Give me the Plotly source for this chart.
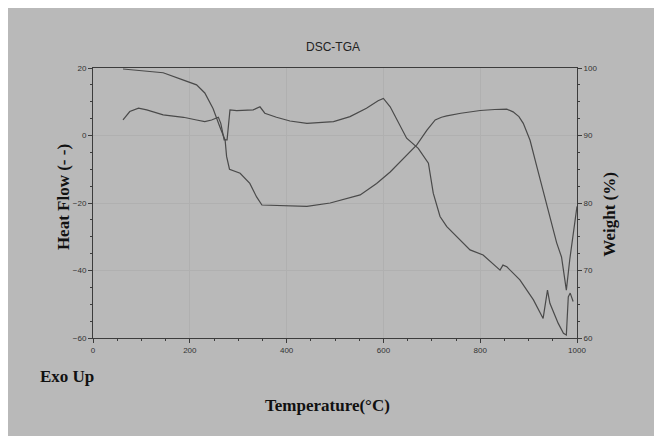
import plotly.graph_objects as go

# TGA weight curve (right axis)
tga_temp = [62, 145, 187, 214, 231, 248, 262, 273, 276, 282, 304, 324, 338, 349, 442, 490, 552, 586, 614,
            669, 690, 707, 720, 731, 760, 800, 830, 855, 868, 880, 889, 903, 917, 931, 944, 958, 968, 978,
            985, 992, 1000]
tga_weight = [99.85, 99.3, 98.2, 97.5, 96.3, 94.0, 91.3, 89.3, 86.9, 85.0, 84.4, 82.9, 80.9, 79.7, 79.5, 80.0,
              81.2, 82.9, 84.6, 88.6, 90.8, 92.3, 92.7, 92.9, 93.3, 93.7, 93.85, 93.9, 93.5, 92.8, 91.8, 89.3,
              85.4, 81.4, 78.0, 74.1, 72.0, 67.1, 71.6, 75.0, 79.5]

# DSC heat flow curve (left axis)
dsc_temp = [62, 76, 94, 111, 145, 187, 214, 231, 245, 259, 264, 271, 277, 283, 297, 331, 345, 355, 379, 407,
            442, 497, 531, 565, 589, 600, 614, 628, 648, 672, 693, 703, 717, 731, 758, 779, 806, 841, 847, 855,
            882, 910, 930, 939, 944, 961, 972, 978, 982, 986, 992]
dsc_heat = [4.6, 7.1, 8.1, 7.6, 6.1, 5.4, 4.6, 4.1, 4.6, 5.4, 3.6, -1.3, -1.3, 7.6, 7.4, 7.6, 8.5, 6.6, 5.4, 4.3,
            3.6, 4.1, 5.6, 8.1, 10.3, 11.0, 8.5, 4.6, -0.8, -3.8, -8.2, -17.1, -24.0, -27.0, -31.0, -33.9, -35.4,
            -39.9, -38.4, -38.9, -42.8, -48.7, -54.2, -45.8, -49.7, -55.6, -58.6, -59.1, -47.8, -46.7, -49.2]

x_ticks = [0, 200, 400, 600, 800, 1000]
left_ticks = [-60, -40, -20, 0, 20]
right_ticks = [60, 70, 80, 90, 100]

BG = "#b9b9b9"
LINE = "#4a4a4a"
AX = "#3c3c3c"
GRID = "#b0b0b0"

fig = go.Figure()
fig.add_trace(go.Scatter(x=dsc_temp, y=dsc_heat, mode="lines", line=dict(color=LINE, width=1.2),
                         yaxis="y", showlegend=False))
fig.add_trace(go.Scatter(x=tga_temp, y=tga_weight, mode="lines", line=dict(color=LINE, width=1.2),
                         yaxis="y2", showlegend=False))

tickfont = dict(family="Arial, Liberation Sans, sans-serif", size=8, color="#333333")
bold_serif = dict(family="Liberation Serif, Times New Roman, serif", size=17, color="#111111")

# page body margin (8px, white) provides the white border seen at top/left
fig.update_layout(
    width=654, height=428,
    margin=dict(l=85, r=85, t=60, b=98),
    paper_bgcolor=BG, plot_bgcolor=BG,
    xaxis=dict(range=[0, 1000], tickvals=x_ticks, showline=True, linecolor=AX, linewidth=1,
               mirror=True, ticks="outside", ticklen=4, tickcolor=AX, tickfont=tickfont,
               showgrid=True, gridcolor=GRID, gridwidth=1, zeroline=False,
               minor=dict(dtick=50, ticks="outside", ticklen=2, tickcolor=AX, showgrid=False)),
    yaxis=dict(range=[-60, 20], tickvals=left_ticks, showline=True, linecolor=AX, linewidth=1,
               ticks="outside", ticklen=4, tickcolor=AX, tickfont=tickfont,
               showgrid=True, gridcolor=GRID, gridwidth=1, zeroline=False,
               minor=dict(dtick=5, ticks="outside", ticklen=2, tickcolor=AX, showgrid=False)),
    yaxis2=dict(range=[60, 100], tickvals=right_ticks, overlaying="y", side="right",
                showline=True, linecolor=AX, linewidth=1,
                ticks="outside", ticklen=4, tickcolor=AX, tickfont=tickfont,
                showgrid=False, zeroline=False,
                minor=dict(dtick=2.5, ticks="outside", ticklen=2, tickcolor=AX)),
    annotations=[
        dict(text="DSC-TGA", xref="paper", yref="paper", x=0.496, y=1.111, showarrow=False,
             font=dict(family="Arial, Liberation Sans, sans-serif", size=12, color="#222222")),
        dict(text="<b>Heat Flow (- -)</b>", xref="paper", yref="paper", x=-0.0847, y=0.52,
             textangle=-90, showarrow=False, font=bold_serif),
        dict(text="<b>Weight (%)</b>", xref="paper", yref="paper", x=1.089, y=0.459,
             textangle=-90, showarrow=False, font=bold_serif),
        dict(text="<b>Exo Up</b>", xref="paper", yref="paper", x=-0.054, y=-0.185,
             xanchor="center", showarrow=False, font=bold_serif),
        dict(text="<b>Temperature(°C)</b>", xref="paper", yref="paper", x=0.4855, y=-0.2926,
             showarrow=False, font=bold_serif),
    ],
)

fig.write_html("out.html")
